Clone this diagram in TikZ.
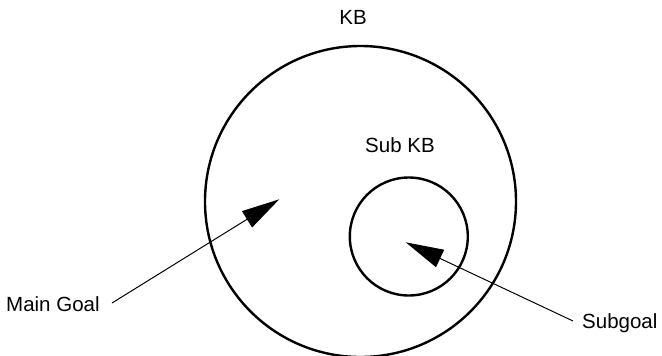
\documentclass[tikz,border=0pt]{standalone}
\usepackage{fontspec}
\setmainfont{Liberation Sans}
\usetikzlibrary{arrows.meta}

\begin{document}
\begin{tikzpicture}[
  x=1pt,y=-1pt,
  ring/.style={draw,circle,line width=2.4pt,inner sep=0pt},
  lbl/.style={font=\fontsize{20.5}{24}\selectfont,inner sep=0pt,anchor=base},
  pointer/.style={line width=1pt,-{Triangle[length=38pt,width=19pt]}}
]
  \useasboundingbox (0,0) rectangle (662,356);

  \node[ring,minimum size=311pt] (kb)    at (360.5,201.5) {};
  \node[ring,minimum size=118pt] (subkb) at (408.8,236.5) {};

  \node[lbl] (kblbl)    at (353,24)  {KB};
  \node[lbl] (subkblbl) at (400,152) {Sub KB};
  \node[lbl,anchor=base west] (mainlbl) at (6,311)   {Main Goal};
  \node[lbl,anchor=base west] (sublbl)  at (582,328) {Subgoal};

  \coordinate (mgtail) at (112,303);
  \coordinate (mgtip)  at (279.3,199.3);
  \coordinate (sgtail) at (573,321);
  \coordinate (sgtip)  at (405.7,242.3);

  \draw[pointer] (mgtail) -- (mgtip);
  \draw[pointer] (sgtail) -- (sgtip);
\end{tikzpicture}
\end{document}
